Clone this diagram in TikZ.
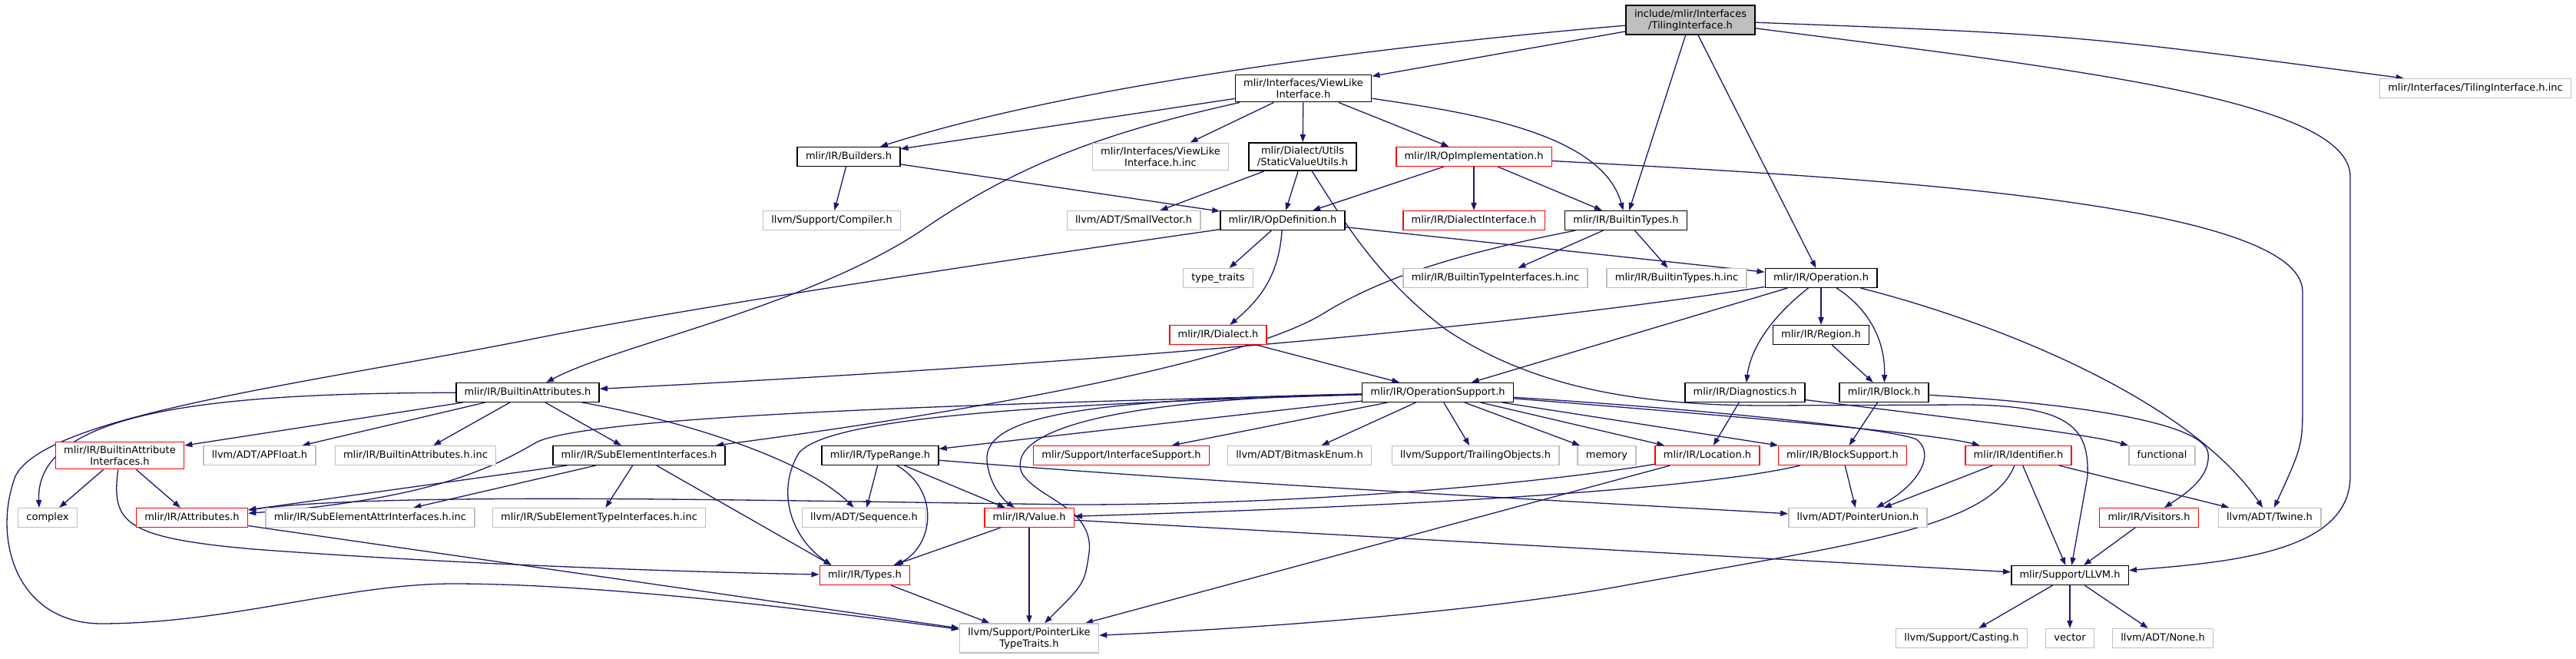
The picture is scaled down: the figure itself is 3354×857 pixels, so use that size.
\documentclass[tikz,border=0pt]{standalone}
\usepackage{fontspec}
\newfontfamily\doxfont{DejaVu Sans}
\usetikzlibrary{arrows.meta}
\usetikzlibrary{backgrounds}
\definecolor{edgeblue}{HTML}{191970}
\definecolor{nodegray}{HTML}{BFBFBF}
\definecolor{nodered}{HTML}{FF0000}
\tikzset{
  file/.style={draw=black, line width=0.75pt, fill=white, inner xsep=5.4pt, inner ysep=0pt,
    minimum height=12.3pt, text height=4.9pt, text depth=1.6pt,
    font=\doxfont\fontsize{6.5}{7.5}\selectfont},
  twoline/.style={align=center, text height=, text depth=, inner ysep=2.6pt},
  docfile/.style={file},
  extfile/.style={file, draw=nodegray},
  cutfile/.style={file, draw=nodered},
  rootfile/.style={file, fill=nodegray},
  incl/.style={draw=edgeblue, line width=0.65pt, -{Triangle[length=5pt,width=3.6pt]}}
}

\begin{document}
\begin{tikzpicture}[x=0.5pt,y=0.5pt,yscale=-1,xscale=1]
\useasboundingbox (0,0) rectangle (3354,857);

% Text Node -- rank 0 to 4
\node[rootfile,twoline] (ti) at (2201,26) {include/mlir/Interfaces\\/TilingInterface.h};
\node[docfile,twoline] (vli) at (1697,115) {mlir/Interfaces/ViewLike\\Interface.h};
\node[extfile] (tiinc) at (3223,115) {mlir/Interfaces/TilingInterface.h.inc};
\node[docfile] (bld) at (1105,204) {mlir/IR/Builders.h};
\node[extfile,twoline] (vlinc) at (1511,204) {mlir/Interfaces/ViewLike\\Interface.h.inc};
\node[docfile,twoline] (svu) at (1696,204) {mlir/Dialect/Utils\\/StaticValueUtils.h};
\node[cutfile] (opimpl) at (1919,204) {mlir/IR/OpImplementation.h};
\node[extfile] (comp) at (1083,287) {llvm/Support/Compiler.h};
\node[extfile] (smv) at (1476,287) {llvm/ADT/SmallVector.h};
\node[docfile] (opdef) at (1670,287) {mlir/IR/OpDefinition.h};
\node[cutfile] (dlgi) at (1919,287) {mlir/IR/DialectInterface.h};
\node[docfile] (btyp) at (2117,287) {mlir/IR/BuiltinTypes.h};
\node[extfile] (tt) at (1586,362) {type\_traits};
\node[extfile] (btiinc) at (1947,362) {mlir/IR/BuiltinTypeInterfaces.h.inc};
\node[extfile] (btinc) at (2183,362) {mlir/IR/BuiltinTypes.h.inc};
\node[docfile] (oper) at (2371,362) {mlir/IR/Operation.h};

% Text Node -- rank 5 to 7
\node[cutfile] (dlct) at (1586,436) {mlir/IR/Dialect.h};
\node[docfile] (reg) at (2371,436) {mlir/IR/Region.h};
\node[docfile] (battr) at (687,511) {mlir/IR/BuiltinAttributes.h};
\node[docfile] (opsup) at (1872,511) {mlir/IR/OperationSupport.h};
\node[docfile] (diag) at (2272,511) {mlir/IR/Diagnostics.h};
\node[docfile] (blk) at (2453,511) {mlir/IR/Block.h};
\node[cutfile,twoline] (bai) at (156,593) {mlir/IR/BuiltinAttribute\\Interfaces.h};
\node[extfile] (apf) at (338,593) {llvm/ADT/APFloat.h};
\node[extfile] (bainc) at (541,593) {mlir/IR/BuiltinAttributes.h.inc};
\node[docfile] (sei) at (832,593) {mlir/IR/SubElementInterfaces.h};
\node[docfile] (trng) at (1146,593) {mlir/IR/TypeRange.h};
\node[cutfile] (isup) at (1460,593) {mlir/Support/InterfaceSupport.h};
\node[extfile] (bme) at (1692,593) {llvm/ADT/BitmaskEnum.h};
\node[extfile] (tobj) at (1921,593) {llvm/Support/TrailingObjects.h};
\node[extfile] (mem) at (2092,593) {memory};
\node[cutfile] (loc) at (2223,593) {mlir/IR/Location.h};
\node[cutfile] (bsup) at (2399,593) {mlir/IR/BlockSupport.h};
\node[cutfile] (ident) at (2628,593) {mlir/IR/Identifier.h};
\node[extfile] (func) at (2815,593) {functional};

% Text Node -- rank 8 to 10
\node[extfile] (cplx) at (62,674) {complex};
\node[cutfile] (attr) at (250,674) {mlir/IR/Attributes.h};
\node[extfile] (seainc) at (482,674) {mlir/IR/SubElementAttrInterfaces.h.inc};
\node[extfile] (setinc) at (780,674) {mlir/IR/SubElementTypeInterfaces.h.inc};
\node[extfile] (seq) at (1125,674) {llvm/ADT/Sequence.h};
\node[cutfile] (val) at (1340,674) {mlir/IR/Value.h};
\node[extfile] (punion) at (2419,674) {llvm/ADT/PointerUnion.h};
\node[cutfile] (vis) at (2798,674) {mlir/IR/Visitors.h};
\node[extfile] (twine) at (2955,674) {llvm/ADT/Twine.h};
\node[cutfile] (typ) at (1126,749) {mlir/IR/Types.h};
\node[docfile] (llvmh) at (2695,749) {mlir/Support/LLVM.h};
\node[extfile,twoline] (pltt) at (1340,831) {llvm/Support/PointerLike\\TypeTraits.h};
\node[extfile] (cast) at (2554,831) {llvm/Support/Casting.h};
\node[extfile] (vec) at (2695,831) {vector};
\node[extfile] (none) at (2816,831) {llvm/ADT/None.h};

\begin{scope}[on background layer]
%Straight Lines
\draw[incl] (ti) -- (vli);
\draw[incl] (ti) -- (btyp);
\draw[incl] (ti) -- (oper);
\draw[incl] (vli) -- (bld);
\draw[incl] (vli) -- (vlinc);
\draw[incl] (vli) -- (svu);
\draw[incl] (vli) -- (opimpl);
\draw[incl] (bld) -- (comp);
\draw[incl] (bld) -- (opdef);
\draw[incl] (svu) -- (smv);
\draw[incl] (svu) -- (opdef);
\draw[incl] (opimpl) -- (opdef);
\draw[incl] (opimpl) -- (dlgi);
\draw[incl] (opimpl) -- (btyp);
\draw[incl] (opdef) -- (tt);
\draw[incl] (opdef) -- (oper);
\draw[incl] (btyp) -- (btiinc);
\draw[incl] (btyp) -- (btinc);
\draw[incl] (oper) -- (opsup);
\draw[incl] (oper) -- (reg);
\draw[incl] (reg) -- (blk);
\draw[incl] (dlct) -- (opsup);
\draw[incl] (battr) -- (bai);
\draw[incl] (battr) -- (apf);
\draw[incl] (battr) -- (bainc);
\draw[incl] (battr) -- (sei);
\draw[incl] (bai) -- (cplx);
\draw[incl] (bai) -- (attr);
\draw[incl] (sei) -- (attr);
\draw[incl] (sei) -- (seainc);
\draw[incl] (sei) -- (setinc);
\draw[incl] (sei) -- ([xshift=8pt]typ.north west);
\draw[incl] (trng) -- (seq);
\draw[incl] (trng) -- (val);
\draw[incl] (opsup) -- (trng);
\draw[incl] (opsup) -- (isup);
\draw[incl] (opsup) -- (bme);
\draw[incl] (opsup) -- (tobj);
\draw[incl] (opsup) -- (mem);
\draw[incl] (opsup) -- (loc);
\draw[incl] (opsup) -- (bsup);
\draw[incl] (diag) -- (loc);
\draw[incl] (blk) -- (bsup);
\draw[incl] (bsup) -- (punion);
\draw[incl] (loc) -- (pltt);
\draw[incl] (ident) -- (punion);
\draw[incl] (ident) -- (llvmh);
\draw[incl] (ident) -- (twine);
\draw[incl] (vis) -- (llvmh);
\draw[incl] (val) -- (typ);
\draw[incl] (val) -- (pltt);
\draw[incl] (val) -- (llvmh);
\draw[incl] (typ) -- (pltt);
\draw[incl] (attr) -- (pltt);
\draw[incl] (llvmh) -- (cast);
\draw[incl] (llvmh) -- (vec);
\draw[incl] (llvmh) -- (none);

%Curve Lines
\draw[incl] (ti) .. controls (1800,60) and (1400,110) .. (bld);
\draw[incl] (ti) .. controls (2700,45) .. ([xshift=16pt]tiinc.north west);
\draw[incl] (ti) .. controls (2700,90) and (3060,130) .. (3060,230) -- (3060,620)
  .. controls (3060,720) and (2900,732) .. (llvmh);
\draw[incl] (vli) .. controls (1900,145) and (2085,170) .. (btyp);
\draw[incl] (vli) .. controls (1450,170) and (1330,210) .. (1200,300)
  .. controls (1050,400) and (800,450) .. (battr);
\draw[incl] (svu) .. controls (1745,280) and (1790,360) .. (1884,430)
  .. controls (1990,500) and (2120,528) .. (2300,528) -- (2560,527)
  .. controls (2700,528) and (2720,560) .. (2718,620) -- (llvmh);
\draw[incl] (opimpl) .. controls (2400,230) and (2998,260) .. (2998,380) -- (2998,520)
  .. controls (2998,580) .. (twine);
\draw[incl] (opdef) .. controls (1665,360) and (1640,390) .. (dlct);
\draw[incl] (opdef) .. controls (1300,340) and (900,400) .. (700,440)
  .. controls (400,500) and (60,540) .. (20,620)
  .. controls (-10,700) and (20,810) .. (130,812)
  .. controls (300,812) and (450,760) .. (590,760)
  .. controls (800,760) and (1100,800) .. (pltt);
\draw[incl] (btyp) .. controls (1900,330) and (1800,360) .. (1720,410)
  .. controls (1600,480) and (1200,545) .. (sei);
\draw[incl] (oper) .. controls (2000,420) and (1500,470) .. (battr);
\draw[incl] (oper) .. controls (2310,410) and (2280,450) .. (diag);
\draw[incl] (oper) .. controls (2430,400) and (2455,440) .. (blk);
\draw[incl] (oper) .. controls (2600,420) and (2850,520) .. (twine);
\draw[incl] (battr) .. controls (300,512) and (45,530) .. ([xshift=-5.5pt]cplx.north);
\draw[incl] (battr) .. controls (900,550) and (1050,600) .. (seq);
\draw[incl] (bai) .. controls (145,680) and (160,700) .. (330,715)
  .. controls (600,735) and (900,745) .. (typ);
\draw[incl] (trng) .. controls (1225,640) and (1215,710) .. ([xshift=20pt]typ.north);
\draw[incl] (trng) .. controls (1600,630) and (2000,650) .. (punion);
\draw[incl] (opsup) .. controls (1300,525) and (780,540) .. (700,575)
  .. controls (640,610) and (560,650) .. (attr);
\draw[incl] (opsup) .. controls (1400,525) and (1080,540) .. (1040,590)
  .. controls (1010,640) and (1030,700) .. ([xshift=8pt]typ.north west);
\draw[incl] (opsup) .. controls (1420,520) and (1280,540) .. (1285,600)
  .. controls (1288,630) and (1305,650) .. (val);
\draw[incl] (opsup) .. controls (1450,520) and (1310,560) .. (1330,615)
  .. controls (1350,650) and (1425,660) .. (1418,720) .. controls (1412,760) .. (pltt);
\draw[incl] (opsup) .. controls (2300,545) and (2520,565) .. (ident);
\draw[incl] (opsup) .. controls (2250,535) and (2470,560) .. (2495,572)
  .. controls (2520,590) and (2500,630) .. (punion);
\draw[incl] (diag) .. controls (2550,545) and (2720,565) .. (func);
\draw[incl] (blk) .. controls (2700,525) and (2870,550) .. (2875,590)
  .. controls (2878,620) and (2850,640) .. (vis);
\draw[incl] (bsup) .. controls (2200,640) and (1800,660) .. (val);
\draw[incl] (loc) .. controls (2000,630) and (1700,657) .. (1400,657)
  .. controls (1000,652) and (500,640) .. (attr);
\draw[incl] (ident) .. controls (2590,690) and (2400,710) .. (2100,765)
  .. controls (1900,800) and (1600,820) .. (pltt);
\end{scope}

\end{tikzpicture}
\end{document}
